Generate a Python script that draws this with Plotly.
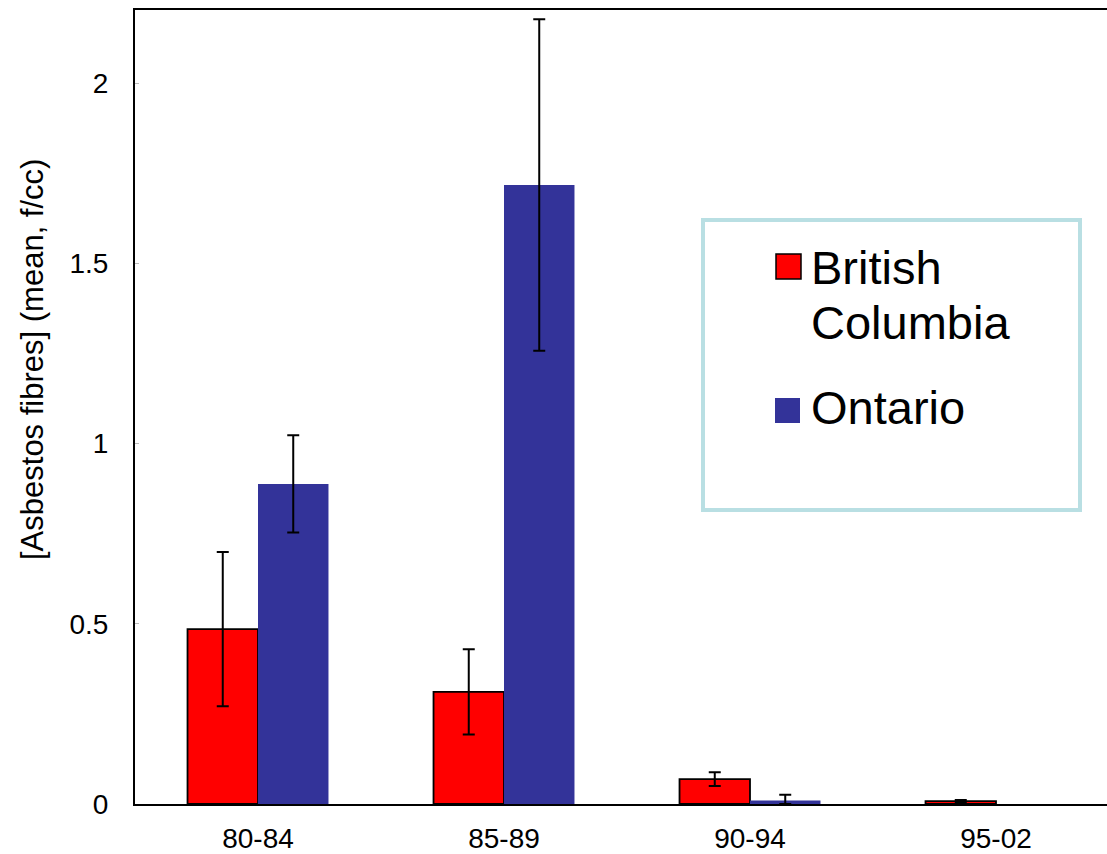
import plotly.graph_objects as go

# Mean asbestos fibre concentrations by period and province
periods = ["80-84", "85-89", "90-94", "95-02"]
bc_mean = [0.485, 0.311, 0.069, 0.008]
bc_err = [0.214, 0.118, 0.019, 0.003]
on_mean = [0.888, 1.717, 0.010, None]
on_err_plus = [0.135, 0.460, 0.016, None]
on_err_minus = [0.135, 0.460, 0.010, None]

series_names = ["British", "Columbia", "Ontario"]
ytick_vals = [0, 0.5, 1, 1.5, 2]
ytick_text = ["0", "0.5", "1", "1.5", "2"]

RED = "#FF0000"
BLUE = "#333399"
FONT = "Arial, Liberation Sans, sans-serif"

W, H = 1107, 854
ML, MR, MT, MB = 135, 0, 10, 50
PW, PH = W - ML - MR, H - MT - MB


def px(x):
    return (x - ML) / PW


def py(y):
    return (H - MB - y) / PH


fig = go.Figure()
fig.add_trace(go.Bar(
    x=periods, y=bc_mean, name="British Columbia",
    marker=dict(color=RED, line=dict(color="black", width=1.8)),
    error_y=dict(type="data", array=bc_err, color="black", thickness=2, width=6),
    showlegend=False,
))
fig.add_trace(go.Bar(
    x=periods, y=on_mean, name="Ontario",
    marker=dict(color=BLUE, line=dict(width=0)),
    error_y=dict(type="data", array=on_err_plus, arrayminus=on_err_minus,
                 color="black", thickness=2, width=6),
    showlegend=False,
))

# Legend box drawn by hand
shapes = [
    dict(type="rect", xref="paper", yref="paper",
         x0=px(703), x1=px(1080), y0=py(510), y1=py(220),
         line=dict(color="#B9DFE3", width=4), fillcolor="white", layer="below"),
    dict(type="rect", xref="paper", yref="paper",
         x0=px(776), x1=px(801), y0=py(279), y1=py(254),
         line=dict(color="black", width=1.5), fillcolor=RED),
    dict(type="rect", xref="paper", yref="paper",
         x0=px(775), x1=px(800), y0=py(423), y1=py(398),
         line=dict(width=0), fillcolor=BLUE),
]

annotations = [
    dict(text="[Asbestos fibres] (mean, f/cc)", xref="paper", yref="paper",
         x=px(32), y=py(360), textangle=-90, showarrow=False,
         xanchor="center", yanchor="middle",
         font=dict(family=FONT, size=31, color="black")),
]
for label, yc in zip(series_names, [267, 322, 408]):
    annotations.append(dict(
        text=label, xref="paper", yref="paper", x=px(809), y=py(yc),
        showarrow=False, xanchor="left", yanchor="middle",
        font=dict(family=FONT, size=47, color="black")))

fig.update_layout(
    width=W, height=H,
    margin=dict(l=ML, r=MR, t=MT, b=MB, pad=0, autoexpand=False),
    paper_bgcolor="white", plot_bgcolor="white",
    barmode="group", bargap=0.427, bargroupgap=0,
    font=dict(family=FONT, size=28, color="black"),
    shapes=shapes, annotations=annotations,
    xaxis=dict(
        type="category", automargin=False,
        range=[-0.5, -0.5 + PW / 246.0],
        showline=True, linecolor="black", linewidth=2, mirror=True,
        showgrid=False, zeroline=False, ticks="",
        ticklabelstandoff=8,
        tickfont=dict(family=FONT, size=28, color="black"),
    ),
    yaxis=dict(
        automargin=False,
        range=[0, (H - MB - MT) / 360.5],
        tickvals=ytick_vals, ticktext=ytick_text,
        showline=True, linecolor="black", linewidth=2,
        showgrid=False, zeroline=False,
        ticks="inside", ticklen=4, tickcolor="#BBBBBB", tickwidth=1,
        ticklabelstandoff=19,
        tickfont=dict(family=FONT, size=28, color="black"),
    ),
)

fig.write_html("out.html")
